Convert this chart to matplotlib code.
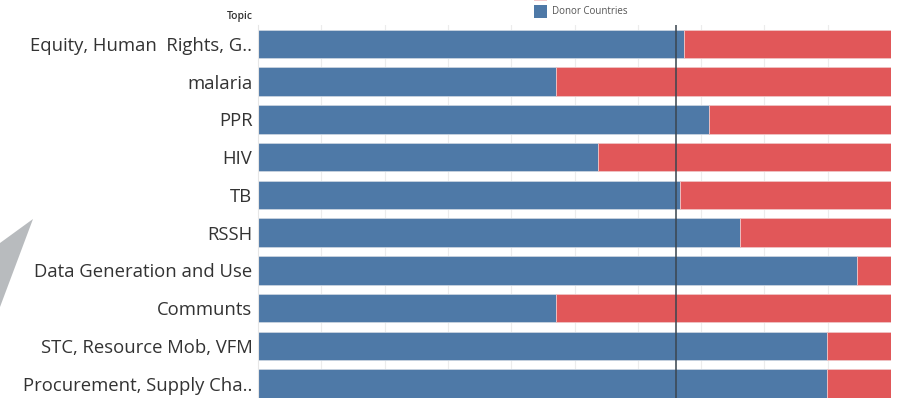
import matplotlib
matplotlib.use("Agg")
import matplotlib.pyplot as plt
from matplotlib.patches import Polygon, Rectangle

topics = ["Equity, Human  Rights, G..", "malaria", "PPR", "HIV", "TB", "RSSH",
          "Data Generation and Use", "Communts", "STC, Resource Mob, VFM",
          "Procurement, Supply Cha.."]
donor_share = [0.673, 0.470, 0.713, 0.537, 0.666, 0.761, 0.947, 0.470, 0.899, 0.899]
other_share = [1 - v for v in donor_share]
reference_value = 0.66
legend_label = "Donor Countries"

BLUE = "#4e79a7"
RED = "#e15759"

W, H = 902, 398
fig = plt.figure(figsize=(W / 100, H / 100), dpi=100)
ax = fig.add_axes([258 / W, 0, (891 - 258) / W, 1 - 25 / H])

y = list(range(len(topics)))
ax.barh(y, donor_share, height=0.755, color=BLUE, edgecolor="#c9d4e0", linewidth=0.6, zorder=2)
ax.barh(y, other_share, left=donor_share, height=0.755, color=RED, edgecolor="#f0c4c5",
        linewidth=0.6, zorder=2)
ax.axvline(reference_value, color="#3b4650", linewidth=1.4, alpha=0.8, zorder=3)

ax.set_xlim(0, 1)
ax.set_ylim(9.38, -0.5)
ax.set_xticks([i / 10 for i in range(1, 10)])
ax.grid(axis="x", color="#ececec", linewidth=0.8, zorder=0)
ax.tick_params(axis="both", length=0, labelbottom=False)
ax.set_yticks(y)
ax.set_yticklabels(topics, fontsize=13.3, color="#333333", family="Open Sans")
ax.tick_params(axis="y", pad=4)
for s in ["top", "right", "bottom"]:
    ax.spines[s].set_visible(False)
ax.spines["left"].set_color("#e6e6e6")
ax.spines["left"].set_linewidth(0.8)

# header and legend
fig.text(253 / W, 1 - 17 / H, "Topic", ha="right", va="center", fontsize=7.5,
         color="#333333", family="Open Sans", fontweight="semibold")
fig.patches.append(Rectangle((534 / W, 1 - 18 / H), 13 / W, 13 / H, transform=fig.transFigure,
                             facecolor=BLUE, edgecolor="none", figure=fig))
fig.patches.append(Rectangle((534 / W, 1 - 1 / H), 13 / W, 6 / H, transform=fig.transFigure,
                             facecolor="#f3c9ca", edgecolor="none", figure=fig))
fig.text(552 / W, 1 - 12 / H, legend_label, ha="left", va="center", fontsize=7,
         color="#555555", family="Open Sans")

# decorative grey shape at left
fig.patches.append(Polygon([(33 / W, 1 - 219 / H), (0, 1 - 243 / H), (0, 1 - 307 / H)],
                           closed=True, transform=fig.transFigure, facecolor="#b8bbbe",
                           edgecolor="none", figure=fig))

fig.savefig("out.png", dpi=100)
